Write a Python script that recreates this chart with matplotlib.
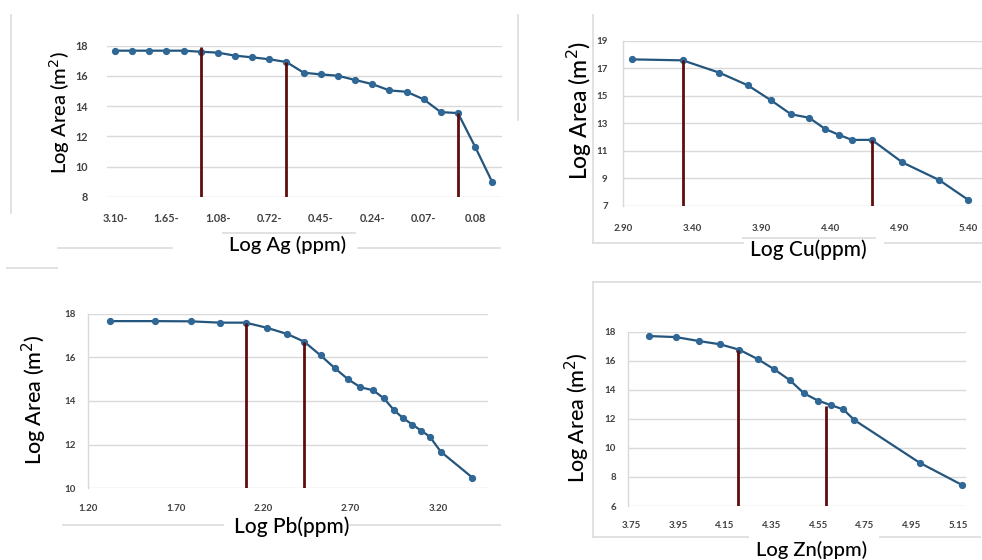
import matplotlib
matplotlib.use("Agg")
import matplotlib.pyplot as plt
from matplotlib.lines import Line2D

# ---------------- data ----------------
ag_labels = ["3.10-", "1.65-", "1.08-", "0.72-", "0.45-", "0.24-", "0.07-", "0.08"]
ag_area = [17.67, 17.67, 17.67, 17.67, 17.67, 17.60, 17.54, 17.34, 17.23, 17.10, 16.92,
           16.21, 16.10, 16.01, 15.73, 15.46, 15.04, 14.95, 14.45, 13.60, 13.54, 11.31, 8.97]
ag_break_idx = [5, 10, 20]
ag_break_top = [17.93, 16.92, 13.54]

cu_x = [2.967, 3.333, 3.598, 3.804, 3.972, 4.117, 4.248, 4.364, 4.467, 4.559, 4.702, 4.924, 5.190, 5.402]
cu_area = [17.66, 17.59, 16.69, 15.77, 14.68, 13.66, 13.41, 12.59, 12.15, 11.79, 11.80, 10.15, 8.87, 7.41]
cu_break_x = [3.333, 4.702]
cu_break_top = [17.59, 11.80]
cu_ticks = [2.90, 3.40, 3.90, 4.40, 4.90, 5.40]

pb_x = [1.324, 1.583, 1.785, 1.952, 2.099, 2.219, 2.337, 2.434, 2.528, 2.610, 2.686,
        2.756, 2.829, 2.890, 2.947, 3.000, 3.053, 3.105, 3.152, 3.215, 3.396]
pb_area = [17.66, 17.66, 17.65, 17.59, 17.59, 17.36, 17.07, 16.72, 16.09, 15.50, 14.99,
           14.63, 14.49, 14.12, 13.59, 13.21, 12.92, 12.63, 12.37, 11.68, 10.49]
pb_break_x = [2.099, 2.434]
pb_break_top = [17.59, 16.72]
pb_ticks = [1.20, 1.70, 2.20, 2.70, 3.20]

zn_x = [3.824, 3.939, 4.037, 4.129, 4.211, 4.289, 4.359, 4.427, 4.489, 4.549, 4.603,
        4.657, 4.704, 4.984, 5.167]
zn_area = [17.70, 17.63, 17.36, 17.13, 16.76, 16.12, 15.43, 14.67, 13.75, 13.25, 12.95,
           12.65, 11.92, 8.98, 7.44]
zn_break_x = [4.207, 4.581]
zn_break_top = [16.76, 12.90]
zn_ticks = [3.75, 3.95, 4.15, 4.35, 4.55, 4.75, 4.95, 5.15]

# ---------------- style ----------------
W, H = 982, 560
LINE = "#24557d"
MARK = "#2f6796"
RED = "#5e0d0d"
GRID = "#d9d9d9"
TICKC = "#404040"
FONT = "Lato"

fig = plt.figure(figsize=(W / 100, H / 100), dpi=100)
fig.patch.set_facecolor("white")


def rect(l, t, r, b):
    return [l / W, 1 - b / H, (r - l) / W, (b - t) / H]


def style(ax, yticks, spine=True, xpad=9, ypad=9, fs=6.8):
    for s in ["top", "right", "bottom"]:
        ax.spines[s].set_visible(False)
    ax.spines["left"].set_visible(spine)
    ax.spines["left"].set_color(GRID)
    ax.spines["left"].set_linewidth(1.0)
    ax.set_yticks(yticks)
    ax.yaxis.grid(True, color=GRID, linewidth=1.0)
    ax.set_axisbelow(True)
    ax.tick_params(length=0, colors=TICKC, labelsize=fs)
    ax.tick_params(axis="x", pad=xpad)
    ax.tick_params(axis="y", pad=ypad)
    for lab in ax.get_xticklabels() + ax.get_yticklabels():
        lab.set_fontfamily(FONT)
        lab.set_fontweight("bold")


def plot_series(ax, x, y):
    ax.plot(x, y, color=LINE, linewidth=1.6, marker="o", markersize=4.2,
            markerfacecolor=MARK, markeredgecolor=MARK, zorder=3)


def breaks(ax, xs, tops, bottom):
    for xv, tv in zip(xs, tops):
        ax.vlines(xv, bottom, tv, color=RED, linewidth=2.0, zorder=4)


ylab = "Log Area (m$^{2}$)"
LBLW = "medium"

# ---- Ag ----
ax1 = fig.add_axes(rect(107, 45.7, 502, 196.7))
idx = list(range(len(ag_area)))
plot_series(ax1, idx, ag_area)
breaks(ax1, ag_break_idx, ag_break_top, 8)
ax1.set_xlim(-0.47, 22.57)
ax1.set_ylim(8, 18)
ax1.set_xticks(idx[::3])
ax1.set_xticklabels(ag_labels)
style(ax1, [8, 10, 12, 14, 16, 18], spine=False, xpad=12, ypad=14, fs=7.8)
fig.text(288 / W, 1 - 245 / H, "Log Ag (ppm)", family=FONT, fontsize=14.5,
         weight=LBLW, ha="center", va="center")
fig.text(60 / W, 1 - 113 / H, ylab, family=FONT, fontsize=14.5, rotation=90,
         weight=LBLW, ha="center", va="center")

# ---- Cu ----
ax2 = fig.add_axes(rect(623, 41, 982, 205.7))
plot_series(ax2, cu_x, cu_area)
breaks(ax2, cu_break_x, cu_break_top, 7)
ax2.set_xlim(2.90, 5.50)
ax2.set_ylim(7, 19)
ax2.set_xticks(cu_ticks)
ax2.set_xticklabels([f"{v:.2f}" for v in cu_ticks])
style(ax2, [7, 9, 11, 13, 15, 17, 19], spine=True, xpad=13, ypad=11, fs=7)
fig.text(808 / W, 1 - 250 / H, "Log Cu(ppm)", family=FONT, fontsize=15,
         weight=LBLW, ha="center", va="center")
fig.text(579 / W, 1 - 110 / H, ylab, family=FONT, fontsize=16.5, rotation=90,
         weight=LBLW, ha="center", va="center")

# ---- Pb ----
ax3 = fig.add_axes(rect(88.3, 313.7, 488.3, 488.3))
plot_series(ax3, pb_x, pb_area)
breaks(ax3, pb_break_x, pb_break_top, 10)
ax3.set_xlim(1.20, 3.487)
ax3.set_ylim(10, 18)
ax3.set_xticks(pb_ticks)
ax3.set_xticklabels([f"{v:.2f}" for v in pb_ticks])
style(ax3, [10, 12, 14, 16, 18], spine=True, xpad=11, ypad=9, fs=7)
fig.text(292 / W, 1 - 527 / H, "Log Pb(ppm)", family=FONT, fontsize=15,
         weight=LBLW, ha="center", va="center")
fig.text(34 / W, 1 - 400 / H, ylab, family=FONT, fontsize=15.5, rotation=90,
         weight=LBLW, ha="center", va="center")

# ---- Zn ----
ax4 = fig.add_axes(rect(628.3, 331.7, 966, 506))
plot_series(ax4, zn_x, zn_area)
breaks(ax4, zn_break_x, zn_break_top, 6)
ax4.set_xlim(3.735, 5.183)
ax4.set_ylim(6, 18)
ax4.set_xticks(zn_ticks)
ax4.set_xticklabels([f"{v:.2f}" for v in zn_ticks])
style(ax4, [6, 8, 10, 12, 14, 16, 18], spine=True, xpad=11, ypad=9, fs=7)
fig.text(812 / W, 1 - 550 / H, "Log Zn(ppm)", family=FONT, fontsize=14.5,
         weight=LBLW, ha="center", va="center")
fig.text(577 / W, 1 - 418 / H, ylab, family=FONT, fontsize=15.5, rotation=90,
         weight=LBLW, ha="center", va="center")

# ---- faint chart borders from the screenshot ----
def fline(x0, y0, x1, y1, c="#dcdcdc", lw=1.2):
    fig.add_artist(Line2D([x0 / W, x1 / W], [1 - y0 / H, 1 - y1 / H],
                          color=c, linewidth=lw, transform=fig.transFigure))

fline(11, 15, 11, 213)
fline(58, 248, 172, 248)
fline(7, 268, 57, 268)
fline(223, 233, 355, 233)
fline(358, 248, 500, 248)
fline(518, 15, 518, 120)
fline(593, 15, 593, 243)
fline(593, 243, 743, 243)
fline(743, 238, 875, 238)
fline(885, 243, 982, 243)
fline(63, 525, 223, 525)
fline(350, 525, 500, 525)
fline(593, 282, 593, 537)
fline(593, 282, 980, 282)
fline(593, 537, 748, 537)
fline(880, 537, 980, 537)

fig.savefig("out.png", dpi=100, facecolor="white")
